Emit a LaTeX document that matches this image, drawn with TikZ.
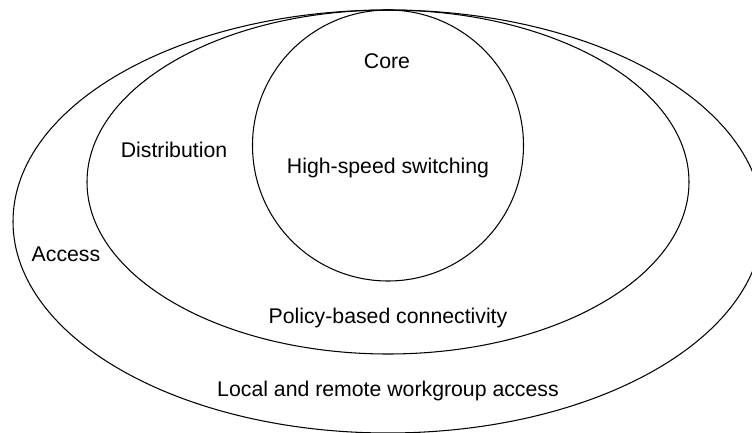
\documentclass[tikz,border=0pt]{standalone}
\usepackage{fontspec}
\setmainfont{Liberation Sans}
\usetikzlibrary{positioning}
\tikzstyle{tier} = [draw=black, line width=0.6pt]
\tikzstyle{tiertext} = [anchor=base, inner sep=0pt, font=\fontsize{12.1}{14}\selectfont]

\begin{document}
\begin{tikzpicture}[x=0.02cm, y=-0.02cm]
    \useasboundingbox (0,0) rectangle (752,433);
    \clip (0,0) rectangle (752,433);

    % Access layer
    \draw[tier] (388,221.5) ellipse [x radius=375, y radius=211.5];

    % Distribution layer
    \draw[tier] (388,182) ellipse [x radius=301, y radius=172];

    % Core layer
    \draw[tier] (388,145.5) circle [radius=135.5];

    % Layer names
    \node[tiertext] (core) at (387,68) {Core};
    \node[tiertext] (dist) at (174,157) {Distribution};
    \node[tiertext] (acc) at (66,261) {Access};

    % Layer roles
    \node[tiertext] (coretask) at (388,173) {High-speed switching};
    \node[tiertext] (disttask) at (388,323) {Policy-based connectivity};
    \node[tiertext] (acctask) at (388,396) {Local and remote workgroup access};
\end{tikzpicture}
\end{document}
